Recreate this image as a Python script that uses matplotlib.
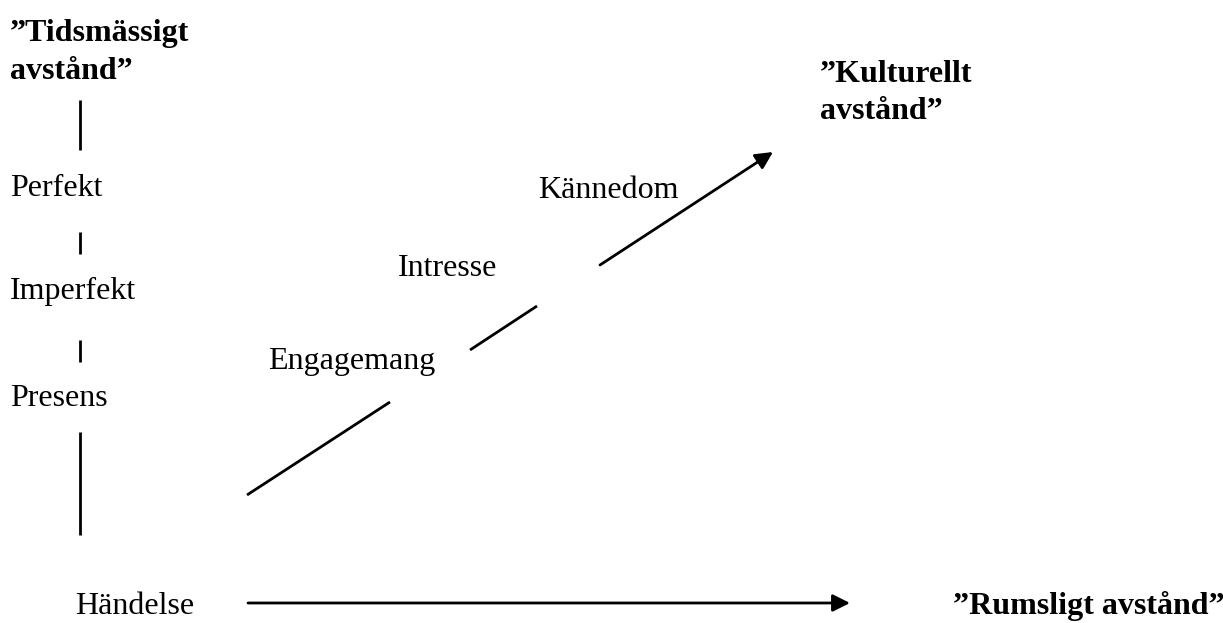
import matplotlib.pyplot as plt

# diagram drawn in pixel coordinates of the 1223x623 canvas (y grows downward)
W, H = 1223, 623

time_label = "”Tidsmässigt\navstånd”"
culture_label = "”Kulturellt\navstånd”"
space_label = "”Rumsligt avstånd”"
event_label = "Händelse"

tenses = ["Perfekt", "Imperfekt", "Presens"]
tense_y = [189, 291, 399]

# vertical "time" line broken up by the tense labels
time_segments = [(100, 150), (232, 254), (340, 362), (432, 535)]
time_x = 80

stages = ["Engagemang", "Intresse", "Kännedom"]
stage_pos = [(268, 361), (398, 269), (538, 191)]

# diagonal "culture" line, broken into pieces, last one with arrow
diag_segments = [((247, 495), (390, 402)), ((470, 350), (537, 306))]
diag_arrow = ((600, 265), (773, 152))

space_arrow = ((248, 603), (850, 603))

plt.rcParams['font.family'] = ['Liberation Serif', 'DejaVu Serif']
FS = 23
LW = 2.0

fig = plt.figure(figsize=(W / 100, H / 100), dpi=100)
ax = fig.add_axes([0, 0, 1, 1])
ax.set_xlim(0, W)
ax.set_ylim(H, 0)
ax.axis('off')

ax.text(10, 19, time_label, fontsize=FS, fontweight='bold', va='top', ha='left', linespacing=1.42)
ax.text(820, 60, culture_label, fontsize=FS, fontweight='bold', va='top', ha='left', linespacing=1.38)
ax.text(953, 606, space_label, fontsize=FS, fontweight='bold', va='center', ha='left')
ax.text(75, 606, event_label, fontsize=FS, va='center', ha='left')

for name, y in zip(tenses, tense_y):
    ax.text(10, y, name, fontsize=FS, va='center', ha='left')

for y0, y1 in time_segments:
    ax.plot([time_x, time_x], [y0, y1], color='black', lw=LW, solid_capstyle='butt')

for name, (x, y) in zip(stages, stage_pos):
    ax.text(x, y, name, fontsize=FS, va='center', ha='left')

for (x0, y0), (x1, y1) in diag_segments:
    ax.plot([x0, x1], [y0, y1], color='black', lw=LW, solid_capstyle='butt')

for (x0, y0), (x1, y1) in [diag_arrow, space_arrow]:
    ax.annotate('', xy=(x1, y1), xytext=(x0, y0),
                arrowprops=dict(arrowstyle='-|>', color='black', lw=LW,
                                mutation_scale=26, shrinkA=0, shrinkB=0))

fig.savefig('out.png', dpi=100)
